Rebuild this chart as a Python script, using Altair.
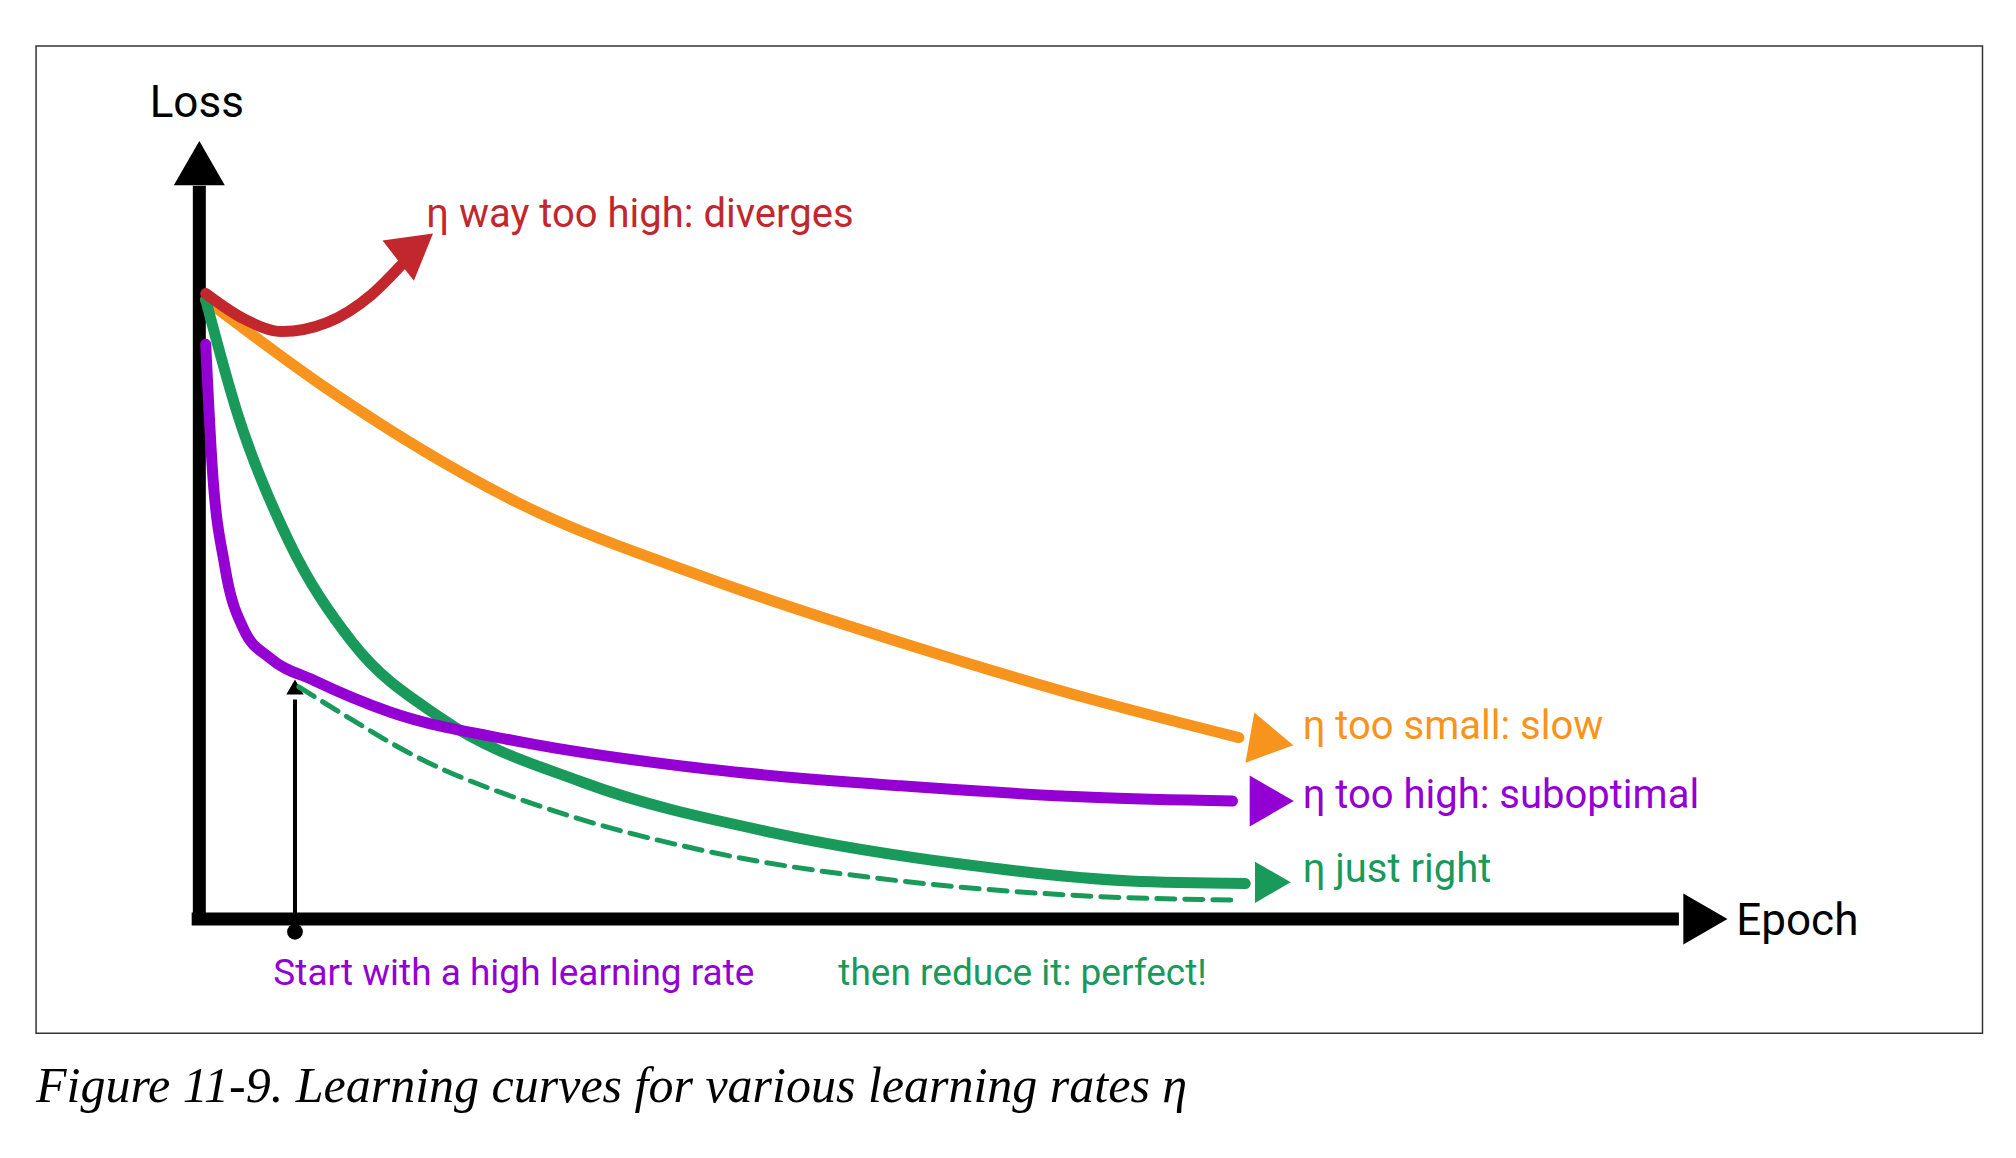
import pandas as pd
import altair as alt

# schematic drawn in picture coordinates (x right, y down)
red_x = [155, 185, 215, 250, 285, 308]
red_y = [225, 245, 255, 248, 226, 203]
orange_x = [155, 250, 400, 550, 700, 850, 965]
orange_y = [230, 300, 390, 450, 500, 545, 575]
green_x = [155, 180, 220, 270, 340, 450, 600, 750, 880, 970]
green_y = [230, 320, 420, 500, 560, 610, 650, 675, 688, 690]
purple_x = [155, 160, 170, 185, 205, 240, 300, 400, 550, 700, 850, 960]
purple_y = [265, 360, 440, 490, 512, 530, 555, 578, 600, 613, 622, 625]
dashed_x = [228, 260, 320, 420, 550, 700, 850, 960]
dashed_y = [535, 555, 590, 630, 665, 688, 700, 703]

RED, ORANGE, GREEN, PURPLE = "#c1272d", "#f7941d", "#1a9a5a", "#9400d3"
FONT = "Roboto"

X = alt.Scale(domain=[0, 1568], nice=False, zero=False)
Y = alt.Scale(domain=[900, 0], nice=False, zero=False)


def xe(f="x"):
    return alt.X(f, type="quantitative", scale=X, axis=None)


def ye(f="y"):
    return alt.Y(f, type="quantitative", scale=Y, axis=None)


def curve(xs, ys, color, dash=None, width=11):
    df = pd.DataFrame({"x": xs, "y": ys, "i": range(len(xs))})
    kw = dict(color=color, strokeWidth=width, interpolate="monotone", strokeCap="round")
    if dash:
        kw["strokeDash"] = dash
    return alt.Chart(df).mark_line(**kw).encode(x=xe(), y=ye(), order="i:Q")


def head(x, y, angle, color, size):
    df = pd.DataFrame({"x": [x], "y": [y]})
    return alt.Chart(df).mark_point(shape="triangle", angle=angle, filled=True,
                                    opacity=1, color=color, size=size).encode(x=xe(), y=ye())


def seg(x1, y1, x2, y2, color, w):
    df = pd.DataFrame({"x": [x1], "y": [y1], "x2": [x2], "y2": [y2]})
    return alt.Chart(df).mark_rule(color=color, strokeWidth=w).encode(
        x=xe(), y=ye(), x2="x2:Q", y2="y2:Q")


def text(x, y, s, color, size=40, align="left", font=FONT, style="normal"):
    df = pd.DataFrame({"x": [x], "y": [y], "t": [s]})
    return alt.Chart(df).mark_text(align=align, baseline="middle", color=color, fontSize=size,
                                   font=font, fontStyle=style).encode(x=xe(), y=ye(), text="t:N")


frame = alt.Chart(pd.DataFrame({"x": [22], "y": [30], "x2": [1548], "y2": [808]})).mark_rect(
    fill="white", stroke="#333", strokeWidth=1.5).encode(x=xe(), y=ye(), x2="x2:Q", y2="y2:Q")

layers = [
    frame,
    seg(150, 720, 150, 140, "black", 13),
    head(150, 128, 0, "black", 2600),
    seg(144, 718, 1310, 718, "black", 13),
    head(1325, 718, 90, "black", 2600),
    seg(225, 728, 225, 545, "black", 4),
    head(225, 537, 0, "black", 300),
    alt.Chart(pd.DataFrame({"x": [225], "y": [728]})).mark_circle(
        color="black", size=250, opacity=1).encode(x=xe(), y=ye()),
    curve(dashed_x, dashed_y, GREEN, dash=[18, 10], width=5),
    curve(orange_x, orange_y, ORANGE),
    head(985, 577, 100, ORANGE, 2600),
    curve(green_x, green_y, GREEN),
    head(987, 689, 90, GREEN, 1700),
    curve(purple_x, purple_y, PURPLE),
    head(985, 625, 90, PURPLE, 2600),
    curve(red_x, red_y, RED),
    head(315, 192, 52, RED, 2600),
    text(148, 76, "Loss", "black", 44, align="center"),
    text(328, 163, "η way too high: diverges", RED),
    text(1015, 567, "η too small: slow", ORANGE),
    text(1015, 621, "η too high: suboptimal", PURPLE),
    text(1015, 679, "η just right", GREEN),
    text(1355, 720, "Epoch", "black", 44),
    text(208, 761, "Start with a high learning rate", PURPLE, 37),
    text(651, 761, "then reduce it: perfect!", GREEN, 37),
    text(22, 850, "Figure 11-9. Learning curves for various learning rates η", "black", 50,
         font="Liberation Serif", style="italic"),
]

chart = alt.layer(*layers).properties(
    width=2000, height=1142, background="white",
    autosize=alt.AutoSizeParams(type="fit", contains="padding"), padding=0
).configure_view(stroke=None)

chart.save("out.html", embed_options={"renderer": "svg", "actions": False})
